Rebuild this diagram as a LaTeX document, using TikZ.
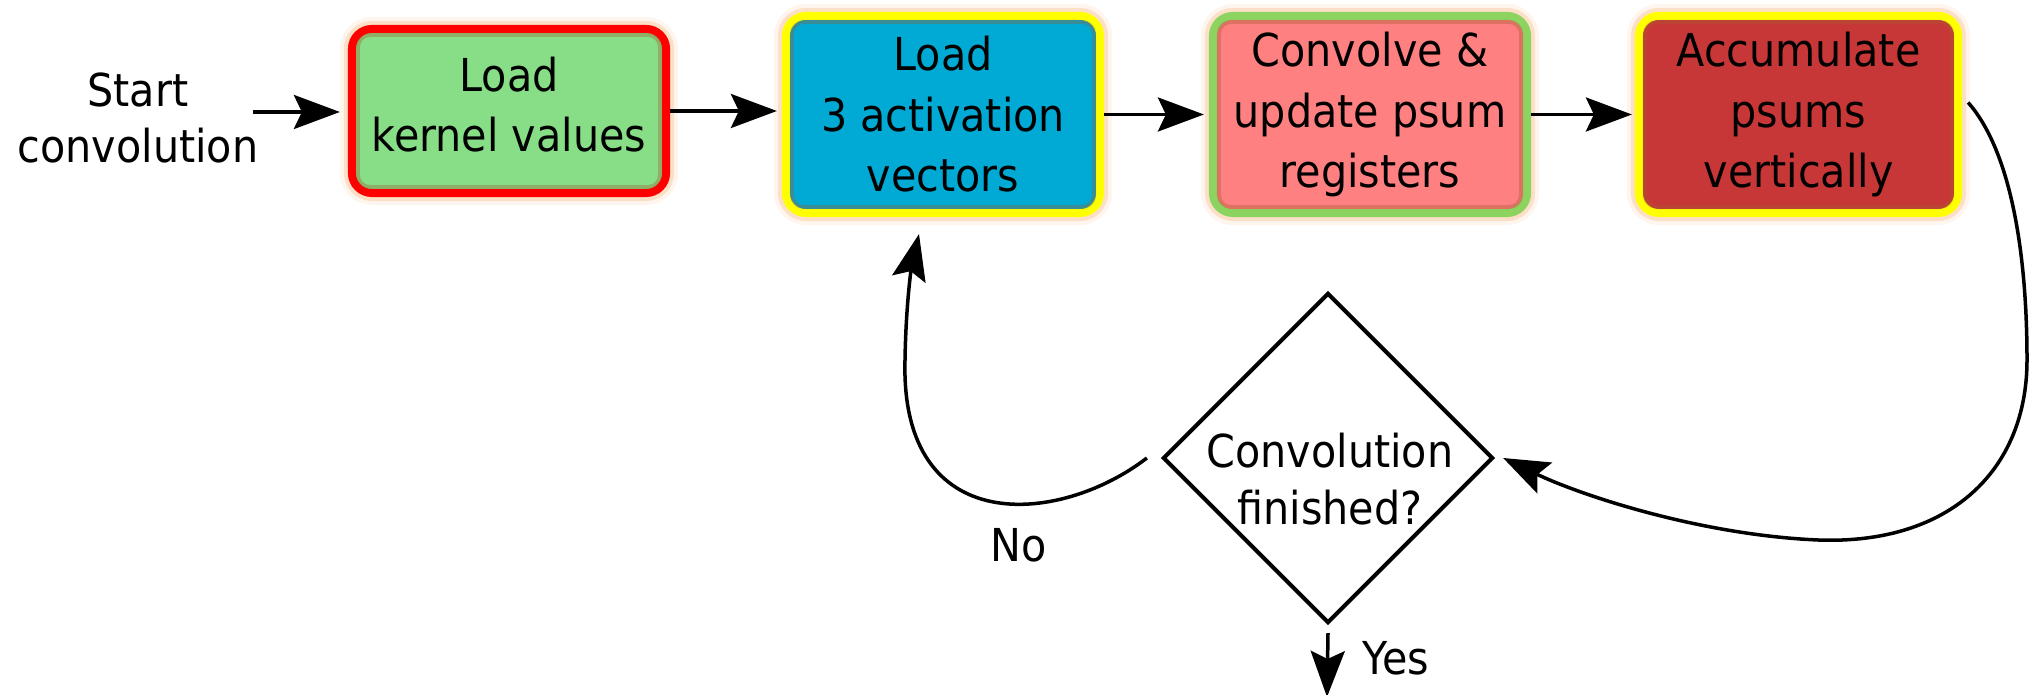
\documentclass[tikz,border=0pt]{standalone}
\usepackage{fontspec}
\setmainfont{DejaVu Sans}[FakeStretch=0.91]
\usetikzlibrary{arrows.meta,shapes.geometric}

\definecolor{kgreen}{HTML}{87DE87}
\definecolor{kred}{HTML}{FF0000}
\definecolor{ablue}{HTML}{00AAD4}
\definecolor{ayellow}{HTML}{FFFF00}
\definecolor{csalmon}{HTML}{FF8080}
\definecolor{cgreen}{HTML}{8DD35F}
\definecolor{pdred}{HTML}{C83737}
\definecolor{glow}{HTML}{F5B070}
\definecolor{rimshade}{HTML}{A05A2C}

\begin{document}
\begin{tikzpicture}[x=0.01cm, y=-0.01cm,
  every node/.style={font=\fontsize{12.9}{16.2}\selectfont, inner sep=0pt},
  stage/.style={rectangle, rounded corners=0.2cm, line width=0.08cm,
    minimum width=3.14cm, align=center, font=\fontsize{12.9}{17.2}\selectfont,
    preaction={draw=glow, line width=0.24cm, draw opacity=0.12},
    preaction={draw=glow, line width=0.16cm, draw opacity=0.3}},
  rim/.style={draw=rimshade, draw opacity=0.35, line width=0.04cm, rounded corners=0.12cm},
  arr/.style={-{Stealth[length=0.46cm, width=0.34cm, inset=0.08cm]}, line width=0.035cm},
  decision/.style={draw, diamond, aspect=1, minimum width=3.3cm, minimum height=3.3cm, line width=0.04cm}
]
\useasboundingbox (0,0) rectangle (2030,695);

% process stages
\node[stage, fill=kgreen, draw=kred, minimum height=1.64cm] (b1) at (509,111) {Load\\kernel values\rule[-0.13cm]{0pt}{0pt}};
\node[stage, fill=ablue, draw=ayellow, minimum height=1.97cm] (b2) at (943,114.5) {Load\\3 activation\\vectors};
\node[stage, fill=csalmon, draw=cgreen, minimum height=1.97cm] (b3) at (1370,114.5) {Convolve \&\\update psum\\registers};
\node[stage, fill=pdred, draw=ayellow, minimum height=1.97cm, minimum width=3.19cm] (b4) at (1798.5,114.5) {Accumulate\\psums\\vertically};

% inner rim shading of the stages
\foreach \b in {b1,b2,b3,b4}
  \draw[rim] ([shift={(10,10)}]\b.north west) rectangle ([shift={(-10,-10)}]\b.south east);

% decision
\node[decision] (dec) at (1328,458) {};
\node[align=center] (dect) at (1330,479) {Convolution\\finished?};

% plain labels
\node[align=center] (start) at (138,118) {Start\\convolution};
\node[anchor=base] (no) at (1019,562) {No};
\node[anchor=base west] (yes) at (1362,675) {Yes};

\coordinate (s0) at (253,112);
\coordinate (yesend) at (1327,697);

% connectors
\draw[arr, shorten >=0.08cm] (s0) -- (b1.west |- s0);
\draw[arr, shorten >=0.05cm] (b1.east) -- (b2.west |- b1.east);
\draw[arr, shorten >=0.05cm] (b2.east) -- (b3.west |- b2.east);
\draw[arr, shorten >=0.03cm] (b3.east) -- (b4.west |- b3.east);

\draw[arr] ([xshift=-0.14cm]dec.west) .. controls (1060,525) and (900,540) .. (905,360)
  .. controls (906,300) and (912,265) .. ([xshift=-0.24cm, yshift=-0.17cm]b2.south);

\draw[arr] ([xshift=0.06cm, yshift=0.12cm]b4.east) .. controls (2010,150) and (2027,250) .. (2027,360)
  .. controls (2027,470) and (1950,545) .. (1818,540)
  .. controls (1700,535) and (1580,495) .. ([xshift=0.08cm]dec.east);

\draw[arr] ([yshift=-0.08cm]dec.south) -- (yesend);
\end{tikzpicture}
\end{document}
